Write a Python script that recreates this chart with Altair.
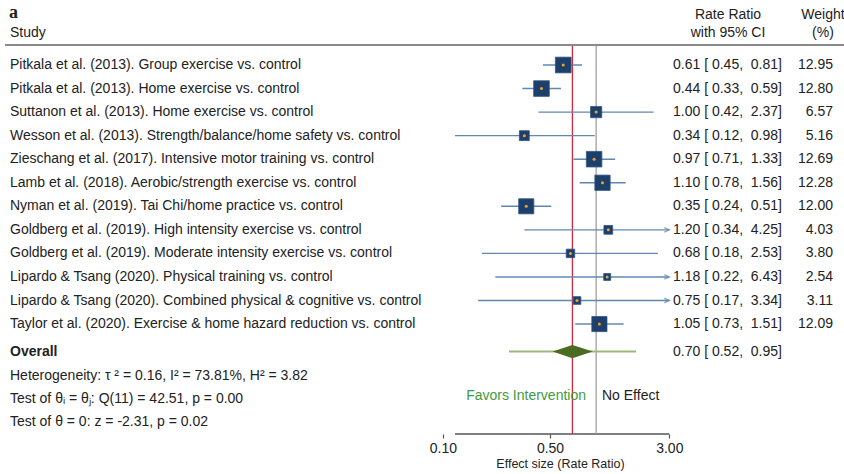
import math
import altair as alt
import pandas as pd

# ---- data -------------------------------------------------------------
studies = [
    "Pitkala et al. (2013). Group exercise vs. control",
    "Pitkala et al. (2013). Home exercise vs. control",
    "Suttanon et al. (2013). Home exercise vs. control",
    "Wesson et al. (2013). Strength/balance/home safety vs. control",
    "Zieschang et al. (2017). Intensive motor training vs. control",
    "Lamb et al. (2018). Aerobic/strength exercise vs. control",
    "Nyman et al. (2019). Tai Chi/home practice vs. control",
    "Goldberg et al. (2019). High intensity exercise vs. control",
    "Goldberg et al. (2019). Moderate intensity exercise vs. control",
    "Lipardo & Tsang (2020). Physical training vs. control",
    "Lipardo & Tsang (2020). Combined physical & cognitive vs. control",
    "Taylor et al. (2020). Exercise & home hazard reduction vs. control",
]
rate_ratio = [0.61, 0.44, 1.00, 0.34, 0.97, 1.10, 0.35, 1.20, 0.68, 1.18, 0.75, 1.05]
ci_low = [0.45, 0.33, 0.42, 0.12, 0.71, 0.78, 0.24, 0.34, 0.18, 0.22, 0.17, 0.73]
ci_high = [0.81, 0.59, 2.37, 0.98, 1.33, 1.56, 0.51, 4.25, 2.53, 6.43, 3.34, 1.51]
weight = [12.95, 12.80, 6.57, 5.16, 12.69, 12.28, 12.00, 4.03, 3.80, 2.54, 3.11, 12.09]

overall_rr, overall_low, overall_high = 0.70, 0.52, 0.95
pred_low, pred_high = 0.27, 1.82

tick_values = [0.10, 0.50, 3.00]
x_max = 3.00

footer_lines = [
    "Heterogeneity: \u03c4\u00a0\u00b2 = 0.16, I\u00b2 = 73.81%, H\u00b2 = 3.82",
    "Test of \u03b8\u1d62 = \u03b8\u2c7c: Q(11) = 42.51, p = 0.00",
    "Test of \u03b8 = 0: z = -2.31, p = 0.02",
]

# ---- layout -----------------------------------------------------------
W, H = 844, 474
PLOT_H = 434
FONT = "Liberation Sans"
FS = 14
TXT = "#222222"

# log axis: 0.50 sits at x=550 px and 3.00 at x=669 px
px_per_ln = (669.3 - 550.0) / math.log(3.0 / 0.5)
x_dom = [0.5 * math.exp(-550.0 / px_per_ln), 0.5 * math.exp((W - 550.0) / px_per_ln)]
XS = alt.Scale(type="log", domain=x_dom, nice=False, zero=False)
X_TITLE = "Effect size (Rate Ratio)"
XAX = alt.Axis(values=tick_values, format=".2f", domain=False, grid=False,
               tickSize=4, tickColor="#555555", tickWidth=1.2,
               labelFont=FONT, labelFontSize=14, labelColor=TXT, labelPadding=3,
               labelFlush=False,
               titleFont=FONT, titleFontSize=12.5, titleFontWeight="normal",
               titleColor=TXT, titleX=560, titleY=23, titleBaseline="top")

# rows: first study at y=65 px, 23.55 px apart
ROW_H, ROW0 = 23.55, 65.0
YS = alt.Scale(domain=[-ROW0 / ROW_H, (PLOT_H - ROW0) / ROW_H], reverse=True,
               nice=False, zero=False)

overall_row = 12.17
footer_rows = [13.21, 14.19, 15.18]
favors_row = 14.06

n = len(studies)
df = pd.DataFrame({
    "study": studies,
    "rr": rate_ratio,
    "lo": ci_low,
    "hi": ci_high,
    "w": weight,
    "row": list(range(n)),
})
df["hi_clip"] = [min(h, x_max) for h in ci_high]
df["area"] = [w * 19.0 for w in weight]
df["est"] = [f"{r:.2f} [\u00a0{l:.2f},\u00a0\u00a0{h:.2f}]" for r, l, h in zip(rate_ratio, ci_low, ci_high)]
df["wtxt"] = [f"{w:.2f}" for w in weight]
arrows = df[df["hi"] > x_max].copy()
arrows["tip"] = x_max


def X(field):
    return alt.X(field, scale=XS, axis=XAX, title=X_TITLE)


Y = alt.Y("row:Q", scale=YS, axis=None)

# axis line runs from the smallest lower limit to the last tick
axis_line = alt.Chart(pd.DataFrame({"a": [min(ci_low)], "b": [x_max]})).mark_rule(
    color="#555555", strokeWidth=1.5).encode(
    x=X("a:Q"), x2="b:Q", y=alt.value(PLOT_H))

# reference lines: overall estimate (red) and no effect (grey)
vlines = alt.Chart(pd.DataFrame({"v": [1.0, overall_rr], "c": ["#a0a0a0", "#d42a3a"]})).mark_rule(
    strokeWidth=1.3).encode(
    x=X("v:Q"), y=alt.value(46), y2=alt.value(PLOT_H),
    color=alt.Color("c:N", scale=None))

header_line = alt.Chart(pd.DataFrame({"k": [0]})).mark_rule(color="#8a8a8a", strokeWidth=2).encode(
    x=alt.value(5), x2=alt.value(W), y=alt.value(45))

whiskers = alt.Chart(df).mark_rule(color="#6088b2", strokeWidth=1.4).encode(
    x=X("lo:Q"), x2="hi_clip:Q", y=Y)

arrow_heads = alt.Chart(arrows).mark_point(
    shape="M -1 -0.45 L 0 0 L -1 0.45", filled=False, color="#6088b2",
    strokeWidth=1.4, size=100).encode(x=X("tip:Q"), y=Y)

boxes = alt.Chart(df).mark_square(color="#1d3f6c", opacity=1,
                                  stroke="#2d5585", strokeWidth=0.8).encode(
    x=X("rr:Q"), y=Y, size=alt.Size("area:Q", scale=None))

dots = alt.Chart(df).mark_circle(color="#f2a12a", size=9, opacity=1).encode(x=X("rr:Q"), y=Y)

pred_line = alt.Chart(pd.DataFrame({"a": [pred_low], "b": [pred_high], "row": [overall_row]})).mark_rule(
    color="#9db77c", strokeWidth=2).encode(x=X("a:Q"), x2="b:Q", y=Y)

half = 0.28
diamond_df = pd.DataFrame({
    "x": [overall_low, overall_rr, overall_high],
    "top": [overall_row, overall_row - half, overall_row],
    "bot": [overall_row, overall_row + half, overall_row],
})
diamond = alt.Chart(diamond_df).mark_area(color="#4a6b21", opacity=1).encode(
    x=X("x:Q"), y=alt.Y("top:Q", scale=YS, axis=None), y2="bot:Q")

txt = dict(font=FONT, fontSize=FS, color=TXT, baseline="middle")

study_txt = alt.Chart(df).mark_text(align="left", **txt).encode(
    x=alt.value(10), y=Y, text="study:N")
est_txt = alt.Chart(df).mark_text(align="left", **txt).encode(
    x=alt.value(673), y=Y, text="est:N")
w_txt = alt.Chart(df).mark_text(align="right", **txt).encode(
    x=alt.value(833), y=Y, text="wtxt:N")

overall_df = pd.DataFrame({
    "row": [overall_row],
    "label": ["Overall"],
    "est": [f"{overall_rr:.2f} [\u00a0{overall_low:.2f},\u00a0\u00a0{overall_high:.2f}]"],
})
overall_lbl = alt.Chart(overall_df).mark_text(align="left", fontWeight="bold", **txt).encode(
    x=alt.value(10), y=Y, text="label:N")
overall_est = alt.Chart(overall_df).mark_text(align="left", **txt).encode(
    x=alt.value(673), y=Y, text="est:N")

footer = alt.Chart(pd.DataFrame({"row": footer_rows, "t": footer_lines})).mark_text(
    align="left", **txt).encode(x=alt.value(10), y=Y, text="t:N")

favors = alt.Chart(pd.DataFrame({"row": [favors_row], "t": ["Favors Intervention"]})).mark_text(
    align="right", font=FONT, fontSize=FS, color="#3f9a3f", baseline="middle").encode(
    x=alt.value(586), y=Y, text="t:N")
no_effect = alt.Chart(pd.DataFrame({"row": [favors_row], "t": ["No Effect"]})).mark_text(
    align="left", **txt).encode(x=alt.value(602), y=Y, text="t:N")

# column headers
hdr = pd.DataFrame({
    "t": ["Study", "Rate Ratio", "with 95% CI", "Weight", "(%)"],
    "x": [10, 728, 728, 823, 823],
    "y": [33, 15, 33, 15, 33],
    "a": ["left", "center", "center", "center", "center"],
})
hdr_layers = [
    alt.Chart(hdr.iloc[[i]]).mark_text(align=hdr["a"][i], **txt).encode(
        x=alt.value(float(hdr["x"][i])), y=alt.value(float(hdr["y"][i])), text="t:N")
    for i in range(len(hdr))
]
panel = alt.Chart(pd.DataFrame({"t": ["a"]})).mark_text(
    align="left", baseline="middle", font="Liberation Serif", fontSize=18, fontWeight="bold",
    color=TXT).encode(x=alt.value(9), y=alt.value(13), text="t:N")

chart = alt.layer(
    axis_line, header_line, vlines, whiskers, arrow_heads, boxes, dots,
    pred_line, diamond, study_txt, est_txt, w_txt, overall_lbl, overall_est,
    footer, favors, no_effect, panel, *hdr_layers,
).properties(
    width=W, height=PLOT_H,
    padding={"left": 0, "top": 0, "right": 0, "bottom": H - PLOT_H},
    autosize="none", background="white"
).configure_view(stroke=None)

chart.save("out.html", embed_options={"renderer": "svg", "actions": False})
